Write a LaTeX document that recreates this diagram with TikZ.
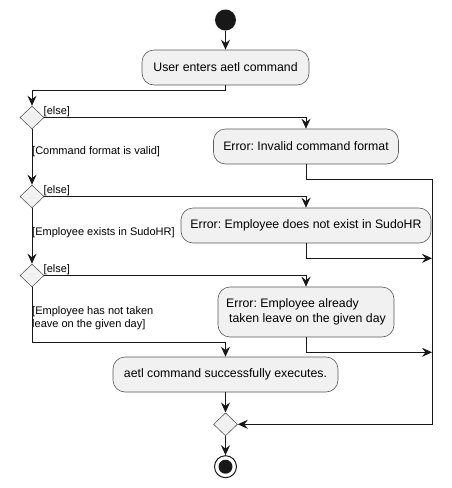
\documentclass[tikz,border=0pt]{standalone}
\usepackage{fontspec}
\setmainfont{Liberation Sans}
\usetikzlibrary{shapes.geometric,arrows.meta}
\definecolor{fillc}{HTML}{F1F1F1}
\definecolor{linec}{HTML}{181818}
\definecolor{borderc}{HTML}{5A5A5A}
\frenchspacing
\begin{document}
\begin{tikzpicture}[x=1pt,y=-1pt,
  act/.style={draw=borderc, line width=0.6pt, fill=fillc, rounded corners=12pt, minimum height=35pt, inner sep=0pt, font=\fontsize{12.3}{14.5}\selectfont, align=center},
  dec/.style={diamond, draw=borderc, fill=fillc, line width=0.6pt, minimum width=24pt, minimum height=23pt, inner sep=0pt},
  guard/.style={font=\fontsize{11}{12.5}\selectfont, inner sep=0pt, align=left},
  arr/.style={draw=linec, line width=1pt, -{Stealth[length=10pt,width=9pt,inset=3.5pt]}},
  ln/.style={draw=linec, line width=1pt}]
\useasboundingbox (0,0) rectangle (452,488);
\node[circle, fill=linec, minimum size=21pt, inner sep=0pt] (start) at (225.5,20) {};
\node[act, minimum width=167pt] (b1) at (225.5,67.5) {User enters aetl command};
\node[dec] (d1) at (32,117.5) {};
\node[act, minimum width=185pt] (b2) at (306,146.5) {Error: Invalid command format};
\node[dec] (d2) at (32,196.5) {};
\node[act, minimum width=250pt] (b3) at (306,225.5) {Error: Employee does not exist in SudoHR};
\node[dec] (d3) at (32,275.5) {};
\node[act, minimum width=176pt, minimum height=50pt, align=left] (b4) at (306,312) {Error: Employee already\\\hspace*{3pt}taken leave on the given day};
\node[act, minimum width=225pt] (b5) at (225.5,374.5) {aetl command successfully executes.};
\node[dec] (m) at (225.5,424.3) {};
\node[circle, draw=linec, line width=1pt, minimum size=22pt, inner sep=0pt] (end) at (225.5,466.7) {};
\fill[linec] (end.center) circle (7pt);
\coordinate (r1) at (432,179);
\coordinate (r2) at (432,258.3);
\coordinate (r3) at (432,352.3);
% guards
\node[guard, anchor=base west] (e1) at (43.5,114) {[else]};
\node[guard, anchor=base west] (e2) at (43.5,193.5) {[else]};
\node[guard, anchor=base west] (e3) at (43.5,272.5) {[else]};
\node[guard, anchor=west] (g1) at (32,152) {[Command format is valid]};
\node[guard, anchor=west] (g2) at (32,232.7) {[Employee exists in SudoHR]};
\node[guard, anchor=west] (g3) at (32,318.3) {[Employee has not taken\\leave on the given day]};
% edges
\draw[arr] (start) -- (b1);
\draw[arr] (b1.south) -- ++(0,5) -| (d1.north);
\draw[arr] (d1.east) -| (b2.north);
\draw[arr] (d1.south) -- (d2.north);
\draw[ln] (b2.south) |- (r1);
\draw[arr] (r1) |- (m.east);
\draw[arr] (d2.east) -| (b3.north);
\draw[arr] (d2.south) -- (d3.north);
\draw[arr] (b3.south) |- (r2);
\draw[arr] (d3.east) -| (b4.north);
\draw[arr] (d3.south) -- ++(0,55.2) -| (b5.north);
\draw[arr] (b4.south) |- (r3);
\draw[arr] (b5) -- (m);
\draw[arr] (m) -- (end);
\end{tikzpicture}
\end{document}
